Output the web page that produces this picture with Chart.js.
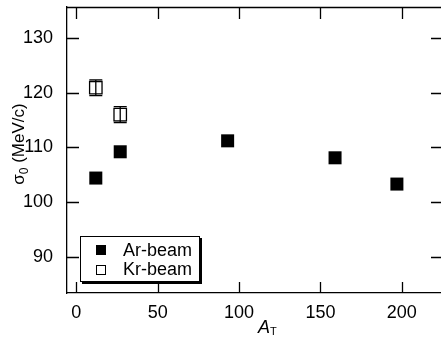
<!DOCTYPE html>
<html>
  <head>
    <title>sigma0 vs AT</title>
    <script src="https://cdn.jsdelivr.net/npm/chart.js"></script>
    <style>
      html, body { margin: 0; padding: 0; background: #fff; }
      #wrap { width: 441px; height: 342px; }
    </style>
  </head>
  <body>
    <div id="wrap"><canvas id="sigmaChart"></canvas></div>

    <script>
      // Werte
      var arA = [12, 27, 93, 159, 197];
      var arSigma = [104.4, 109.2, 111.2, 108.1, 103.3];
      var krA = [12, 27];
      var krSigma = [120.9, 116.0];
      var krErr = [1.45, 1.45];
      var xTicks = [0, 50, 100, 150, 200];
      var yTicks = [90, 100, 110, 120, 130];
      var seriesNames = ["Ar-beam", "Kr-beam"];

      var fontName = "'Liberation Sans', Arial, sans-serif";

      // Rahmen, Ticks nach innen, Fehlerbalken, Legende, Achsentitel
      var framePlugin = {
        id: "frame",
        afterDatasetsDraw: function (chart) {
          var ctx = chart.ctx;
          var a = chart.chartArea;
          var xs = chart.scales.x;
          var ys = chart.scales.y;
          ctx.save();
          ctx.strokeStyle = "#000";
          ctx.lineWidth = 1.3;

          // Fehlerbalken Kr
          krA.forEach(function (v, i) {
            var px = xs.getPixelForValue(v);
            var top = ys.getPixelForValue(krSigma[i] + krErr[i]);
            var bot = ys.getPixelForValue(krSigma[i] - krErr[i]);
            ctx.beginPath();
            ctx.moveTo(px, top);
            ctx.lineTo(px, bot);
            ctx.moveTo(px - 6.5, top);
            ctx.lineTo(px + 6.5, top);
            ctx.moveTo(px - 6.5, bot);
            ctx.lineTo(px + 6.5, bot);
            ctx.stroke();
          });

          // oberer Rand
          ctx.beginPath();
          ctx.moveTo(a.left, a.top + 0.5);
          ctx.lineTo(a.right, a.top + 0.5);
          ctx.stroke();

          ctx.beginPath();
          xTicks.forEach(function (v) {
            var px = Math.round(xs.getPixelForValue(v)) + 0.5;
            ctx.moveTo(px, a.bottom);
            ctx.lineTo(px, a.bottom - 11);
            ctx.moveTo(px, a.top);
            ctx.lineTo(px, a.top + 12);
          });
          yTicks.forEach(function (v) {
            var py = Math.round(ys.getPixelForValue(v)) + 0.5;
            ctx.moveTo(a.left, py);
            ctx.lineTo(a.left + 12, py);
            ctx.moveTo(a.right, py);
            ctx.lineTo(a.right - 10, py);
          });
          ctx.stroke();

          // Legende
          var lx = 80, ly = 236, lw = 120, lh = 46;
          ctx.fillStyle = "#000";
          ctx.fillRect(lx + 2, ly + 2, lw, lh);
          ctx.fillStyle = "#fff";
          ctx.fillRect(lx, ly, lw, lh);
          ctx.lineWidth = 1;
          ctx.strokeRect(lx + 0.5, ly + 0.5, lw - 1, lh - 1);
          ctx.fillStyle = "#000";
          ctx.fillRect(96, 245, 10, 10);
          ctx.fillStyle = "#fff";
          ctx.fillRect(96.5, 265.5, 9, 9);
          ctx.strokeRect(96.5, 265.5, 9, 9);
          ctx.fillStyle = "#000";
          ctx.font = "18px " + fontName;
          ctx.textBaseline = "alphabetic";
          ctx.textAlign = "left";
          ctx.fillText(seriesNames[0], 123, 256);
          ctx.fillText(seriesNames[1], 123, 275);

          // x-Titel A_T
          ctx.font = "italic 18px " + fontName;
          ctx.fillText("A", 258, 333);
          var aw = ctx.measureText("A").width;
          ctx.font = "11px " + fontName;
          ctx.fillText("T", 258 + aw, 335);

          // y-Titel sigma_0 (MeV/c)
          ctx.translate(24, 144);
          ctx.rotate(-Math.PI / 2);
          var s1 = "σ";
          var s2 = "0";
          var s3 = " (MeV/c)";
          ctx.font = "17px " + fontName;
          var w1 = ctx.measureText(s1).width;
          var w3 = ctx.measureText(s3).width;
          ctx.font = "12px " + fontName;
          var w2 = ctx.measureText(s2).width;
          var x0 = -(w1 + w2 + w3) / 2;
          ctx.font = "17px " + fontName;
          ctx.fillText(s1, x0, 0);
          ctx.font = "12px " + fontName;
          ctx.fillText(s2, x0 + w1, 4);
          ctx.font = "17px " + fontName;
          ctx.fillText(s3, x0 + w1 + w2, 0);
          ctx.restore();
        },
      };

      function noPadding(scale) {
        scale.paddingTop = 0;
        scale.paddingBottom = 0;
        scale.paddingLeft = 0;
        scale.paddingRight = 0;
      }

      var ctx = document.getElementById("sigmaChart").getContext("2d");
      var myChart = new Chart(ctx, {
        type: "scatter",
        data: {
          datasets: [
            {
              label: seriesNames[0],
              data: arA.map(function (v, i) {
                return { x: v, y: arSigma[i] };
              }),
              pointStyle: "rect",
              pointRadius: 9.2,
              pointHoverRadius: 9.2,
              backgroundColor: "#000",
              borderColor: "#000",
              borderWidth: 0,
            },
            {
              label: seriesNames[1],
              data: krA.map(function (v, i) {
                return { x: v, y: krSigma[i] };
              }),
              pointStyle: "rect",
              pointRadius: 8.8,
              pointHoverRadius: 8.8,
              backgroundColor: "#fff",
              borderColor: "#000",
              borderWidth: 1.3,
            },
          ],
        },
        options: {
          responsive: true,
          maintainAspectRatio: false,
          animation: false,
          events: [],
          layout: {
            autoPadding: false,
            padding: { top: 7, right: 0, left: 0, bottom: 0 },
          },
          plugins: { legend: { display: false }, tooltip: { enabled: false } },
          scales: {
            x: {
              type: "linear",
              min: -5.7,
              max: 224.1,
              grid: { display: false },
              border: { display: true, color: "#000", width: 1.3 },
              ticks: {
                color: "#000",
                font: { family: fontName, size: 18 },
                padding: 1,
                maxRotation: 0,
              },
              afterBuildTicks: function (scale) {
                scale.ticks = xTicks.map(function (v) {
                  return { value: v };
                });
              },
              afterFit: function (scale) {
                scale.height = 49;
                noPadding(scale);
              },
            },
            y: {
              type: "linear",
              min: 83.4,
              max: 135.65,
              grid: { display: false },
              border: { display: true, color: "#000", width: 1.3 },
              ticks: {
                color: "#000",
                font: { family: fontName, size: 18 },
                padding: 6,
              },
              afterBuildTicks: function (scale) {
                scale.ticks = yTicks.map(function (v) {
                  return { value: v };
                });
              },
              afterFit: function (scale) {
                scale.width = 67;
                noPadding(scale);
              },
            },
          },
        },
        plugins: [framePlugin],
      });
    </script>
  </body>
</html>
